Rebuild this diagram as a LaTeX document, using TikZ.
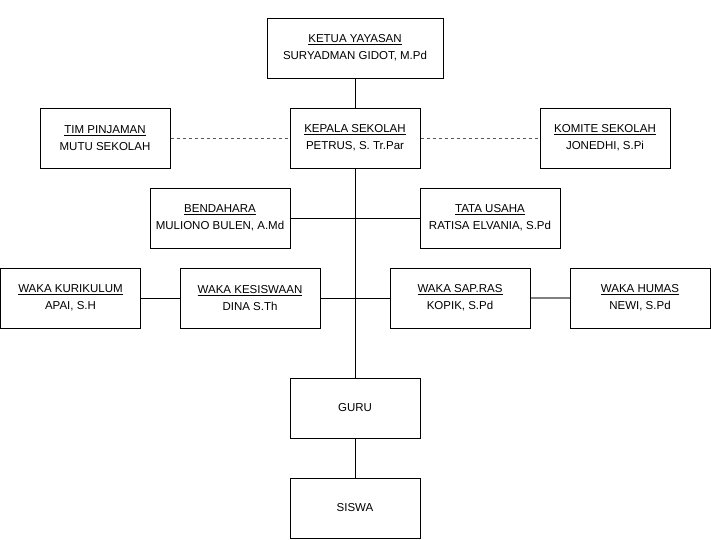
\documentclass[tikz,border=0pt]{standalone}
\usepackage{fontspec}
\setmainfont{Liberation Sans}
\usepackage{tikz}

\begin{document}
\begin{tikzpicture}[x=1pt,y=-1pt,line width=1pt,
        box/.style={rectangle,draw=black,fill=white,inner sep=0pt,minimum height=60pt,
            align=center,font=\fontsize{11.5}{17}\selectfont},
        link/.style={draw=black},
        dotlink/.style={draw=black!65,dash pattern=on 3pt off 3pt}]

    \useasboundingbox (0,0) rectangle (711,539);
    \fill[white] (0,0) rectangle (711,539);

    \node[box, minimum width=176pt] (ketua) at (355,48) {\underline{KETUA YAYASAN}\\SURYADMAN GIDOT, M.Pd};
    \node[box, minimum width=130pt] (kepala) at (355,138) {\underline{KEPALA SEKOLAH}\\PETRUS, S. Tr.Par};
    \node[box, minimum width=130pt] (tim) at (105,138) {\underline{TIM PINJAMAN}\\MUTU SEKOLAH};
    \node[box, minimum width=130pt] (komite) at (605,138) {\underline{KOMITE SEKOLAH}\\JONEDHI, S.Pi};
    \node[box, minimum width=140pt] (bendahara) at (220,218) {\underline{BENDAHARA}\\MULIONO BULEN, A.Md};
    \node[box, minimum width=140pt] (tatausaha) at (490,218) {\underline{TATA USAHA}\\RATISA ELVANIA, S.Pd};
    \node[box, minimum width=140pt] (kurikulum) at (70.5,298) {\underline{WAKA KURIKULUM}\\APAI, S.H};
    \node[box, minimum width=140pt] (kesiswaan) at (250,298) {\underline{WAKA KESISWAAN}\\DINA S.Th};
    \node[box, minimum width=140pt] (sapras) at (460,298) {\underline{WAKA SAP.RAS}\\KOPIK, S.Pd};
    \node[box, minimum width=140pt] (humas) at (640,298) {\underline{WAKA HUMAS}\\NEWI, S.Pd};
    \node[box, minimum width=130pt] (guru) at (355,408) {GURU};
    \node[box, minimum width=130pt] (siswa) at (355,508) {SISWA};

    \path
    (ketua) edge[link] (kepala)
    (kepala) edge[link] (guru)
    (guru) edge[link] (siswa)
    (bendahara) edge[link] (tatausaha)
    (kesiswaan) edge[link] (sapras)
    (kurikulum) edge[link] (kesiswaan)
    (sapras) edge[draw=black!50, line width=2pt] (humas)
    (tim) edge[dotlink] (kepala)
    (kepala) edge[dotlink] (komite);

\end{tikzpicture}
\end{document}
